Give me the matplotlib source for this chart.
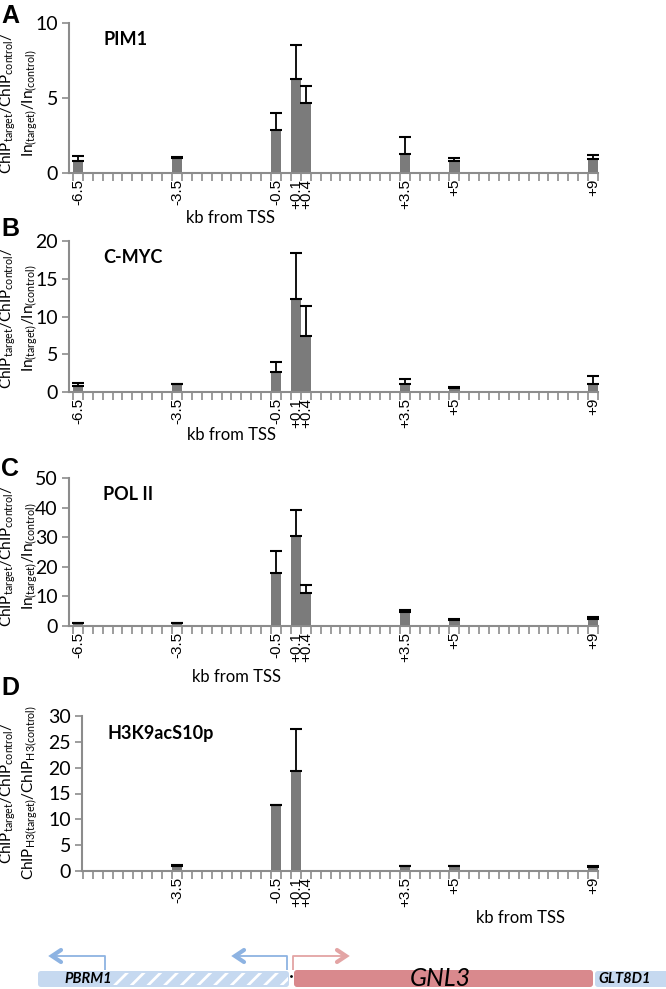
import numpy as np
import matplotlib
matplotlib.use('Agg')
import matplotlib.pyplot as plt
from matplotlib.patches import FancyBboxPatch, Rectangle

plt.rcParams['font.family'] = ['Lato', 'DejaVu Sans']
plt.rcParams['mathtext.default'] = 'regular'
plt.rcParams['hatch.color'] = 'white'
plt.rcParams['hatch.linewidth'] = 2.0

# Category axis: 53 slots, only some of them carry data / labels
n_slots = 53
tick_labels = ['-6.5', '-3.5', '-0.5', '+0.1', '+0.4', '+3.5', '+5', '+9']
slot_index = [0, 10, 20, 22, 23, 33, 38, 52]

pim1 = [0.8, 1.0, 2.9, 6.3, 4.7, 1.3, 0.8, 0.95]
pim1_err = [0.35, 0.05, 1.1, 2.25, 1.1, 1.1, 0.2, 0.25]

cmyc = [0.75, 1.0, 2.6, 12.3, 7.4, 1.1, 0.5, 1.0]
cmyc_err = [0.5, 0.05, 1.4, 6.1, 4.0, 0.6, 0.1, 1.1]

pol2 = [0.9, 1.0, 18.0, 30.3, 11.0, 4.6, 2.0, 2.2]
pol2_err = [0.1, 0.1, 7.2, 9.0, 3.0, 0.9, 0.5, 0.7]

h3k9 = [0.0, 1.0, 12.7, 19.3, 0.0, 0.9, 0.9, 0.7]
h3k9_err = [0.0, 0.1, 0.1, 8.2, 0.0, 0.1, 0.1, 0.2]

ylabel_a = 'ChIP$_{target}$/ChIP$_{control}$/\nIn$_{(target)}$/In$_{(control)}$'
ylabel_d = 'ChIP$_{target}$/ChIP$_{control}$/\nChIP$_{H3(target)}$/ChIP$_{H3(control)}$'

panels = [
    # letter, title, values, errors, ylim, ystep, ylabel, show first label
    ('A', 'PIM1', pim1, pim1_err, 10, 5, ylabel_a, True),
    ('B', 'C-MYC', cmyc, cmyc_err, 20, 5, ylabel_a, True),
    ('C', 'POL II', pol2, pol2_err, 50, 10, ylabel_a, True),
    ('D', 'H3K9acS10p', h3k9, h3k9_err, 30, 5, ylabel_d, False),
]

W, H = 666, 989
fig = plt.figure(figsize=(W / 100, H / 100), dpi=100)

# axes boxes in pixels: left, right, top, bottom
boxes = [(69, 598, 23, 173), (69, 598, 241, 392), (69, 598, 478, 626),
         (82, 598, 716, 871)]
xlabel_pos = [(231, 218), (232, 435), (236, 677), (520, 918)]
letter_y = [16, 229, 469, 688]
ylabel_x = [19, 19, 19, 19]
ylabel_y = [103, 318, 556, 793]

axis_gray = '#8c8c8c'
bar_gray = '#7b7b7b'

for (letter, title, vals, errs, ytop, ystep, ylab, first), box, xl, ly, yx, yy in zip(
        panels, boxes, xlabel_pos, letter_y, ylabel_x, ylabel_y):
    l, r, t, b = box
    ax = fig.add_axes([l / W, 1 - b / H, (r - l) / W, (b - t) / H])
    x = np.array(slot_index)
    v = np.array(vals)
    e = np.array(errs)
    keep = v > 0
    ax.bar(x[keep], v[keep], width=1.05, color=bar_gray, edgecolor='none', zorder=2)
    ax.errorbar(x[keep], v[keep], yerr=[np.zeros(keep.sum()), e[keep]],
                fmt='none', ecolor='black', elinewidth=1.3, capsize=4,
                capthick=1.5, zorder=3)
    x0 = -0.9 if first else 0.4
    ax.set_xlim(x0, n_slots - 0.5)
    ax.set_ylim(0, ytop)
    ax.set_yticks(np.arange(0, ytop + 1, ystep))
    ax.tick_params(axis='y', colors=axis_gray, labelcolor='black', length=5,
                   width=1.2, labelsize=14, pad=3)
    # slot boundary ticks (no labels) + labelled minor ticks at slot centres
    start = -0.5 if first else 0.5
    ax.set_xticks(np.arange(start, n_slots, 1.0))
    ax.set_xticklabels([])
    ax.tick_params(axis='x', which='major', colors=axis_gray, length=6,
                   width=1.2, direction='out')
    if first:
        lx, lt = slot_index, tick_labels
    else:
        lx, lt = slot_index[1:], tick_labels[1:]
    ax.set_xticks(lx, minor=True)
    ax.set_xticklabels(lt, minor=True, rotation=90, fontsize=11,
                       family='Liberation Sans')
    ax.tick_params(axis='x', which='minor', length=0, pad=4)
    for s in ['top', 'right']:
        ax.spines[s].set_visible(False)
    for s in ['left', 'bottom']:
        ax.spines[s].set_color(axis_gray)
        ax.spines[s].set_linewidth(1.5)
    ax.text(0.065 if first else 0.05, 0.89, title, transform=ax.transAxes,
            fontsize=13, fontweight='bold', va='center', ha='left')
    fig.text(xl[0] / W, 1 - xl[1] / H, 'kb from TSS', fontsize=12,
             ha='center', va='center')
    fig.text(1 / W, 1 - ly / H, letter, fontsize=18, fontweight='bold',
             ha='left', va='center', family='Liberation Sans')
    fig.text(yx / W, 1 - yy / H, ylab, rotation=90,
             fontsize=11, ha='center', va='center', linespacing=1.2)

# gene schematic at the bottom (pixel space)
gx = fig.add_axes([0, 0, 1, 1])
gx.set_xlim(0, W)
gx.set_ylim(H, 0)
gx.axis('off')

blue = '#c6d9f0'
blue_line = '#8db3e2'
pink = '#d9898d'
pink_line = '#e3a4a4'

gx.add_patch(FancyBboxPatch((38, 971), 251, 16, boxstyle='round,pad=0,rounding_size=3',
                            facecolor=blue, edgecolor='none'))
gx.add_patch(Rectangle((113, 973), 175, 12, facecolor='none', edgecolor='white',
                       hatch='//', linewidth=0))
gx.add_patch(FancyBboxPatch((294, 970), 299, 17, boxstyle='round,pad=0,rounding_size=3',
                            facecolor=pink, edgecolor='none'))
gx.add_patch(FancyBboxPatch((595, 971), 75, 16, boxstyle='round,pad=0,rounding_size=3',
                            facecolor=blue, edgecolor='none'))
gx.text(64, 979, 'PBRM1', fontsize=10.5, style='italic', fontweight='bold',
        ha='left', va='center')
gx.text(440, 978.5, 'GNL3', fontsize=18, style='italic', ha='center',
        va='center')
gx.text(598, 979, 'GLT8D1', fontsize=10.5, style='italic', fontweight='bold',
        ha='left', va='center')
gx.plot([291], [976], marker='.', color='black', markersize=2)

# promoter arrows
for xv, xe, col in [(105, 52, blue_line), (287, 235, blue_line), (293, 346, pink_line)]:
    gx.plot([xv, xv, xe], [970, 956, 956], color=col, lw=1.3, solid_capstyle='butt')
    d = -1 if xe < xv else 1
    gx.plot([xe - d * 9, xe, xe - d * 9], [950, 956, 962], color=col, lw=3,
            solid_capstyle='round', solid_joinstyle='miter')

fig.savefig('out.png', dpi=100)
